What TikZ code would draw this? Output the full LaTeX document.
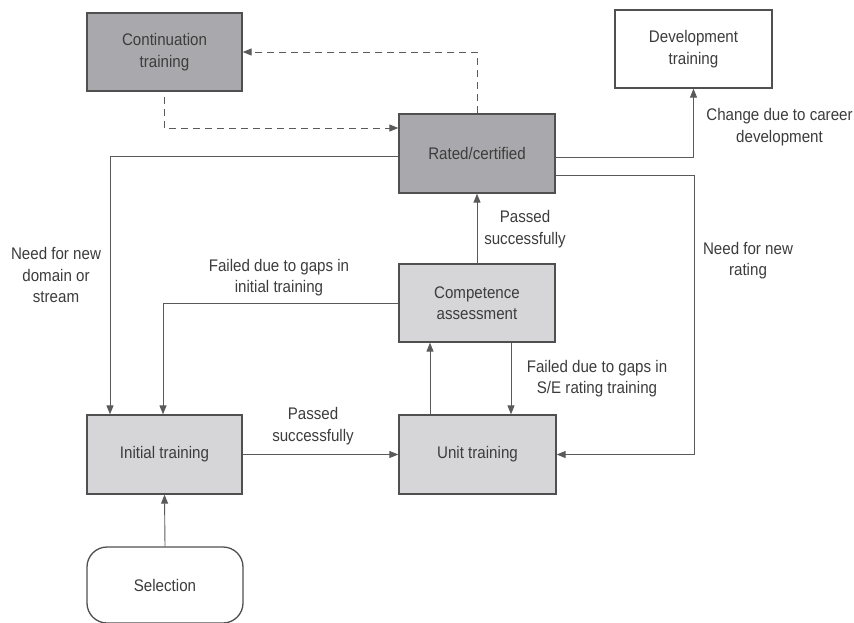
\documentclass[tikz,border=0pt]{standalone}
\usepackage{fontspec}
\setmainfont{Liberation Sans}[FakeStretch=0.9]
\usetikzlibrary{arrows.meta}
\definecolor{darkbox}{HTML}{A9A9AD}
\definecolor{lightbox}{HTML}{D6D6D8}
\definecolor{edgec}{HTML}{505050}
\definecolor{linec}{HTML}{5A5A5A}
\definecolor{txt}{HTML}{3C3C3C}
\tikzset{
  box/.style={draw=edgec, line width=1.3pt, minimum width=155pt, minimum height=78pt, align=center, text=txt, font=\fontsize{16.8}{21.5}\selectfont, inner sep=0pt},
  darkb/.style={box, fill=darkbox},
  lightb/.style={box, fill=lightbox},
  whiteb/.style={box, fill=white},
  arr/.style={draw=linec, line width=0.9pt, -{Triangle[length=9pt,width=7pt]}},
  dasharr/.style={arr, dash pattern=on 7pt off 5pt},
  lbl/.style={align=center, text=txt, font=\fontsize{16.8}{21.5}\selectfont, inner sep=0pt}
}
\begin{document}
\begin{tikzpicture}[x=1pt,y=-1pt]
\useasboundingbox (0,0) rectangle (854,622);
\node[darkb] (cont) at (164.5,52) {Continuation\\training};
\node[darkb, minimum width=156pt, minimum height=79pt] (rated) at (477,153.5) {Rated/certified};
\node[whiteb, minimum width=157pt] (dev) at (693.5,49) {Development\\training};
\node[lightb, minimum width=156pt] (comp) at (477,303) {Competence\\assessment};
\node[lightb, minimum height=79pt] (init) at (164.5,454.5) {Initial training};
\node[lightb, minimum width=157pt, minimum height=79pt] (unit) at (477.5,454.5) {Unit training};
\node[box, fill=white, rounded corners=20pt, minimum width=156pt, minimum height=76pt] (sel) at (165,585) {Selection};
\coordinate (nr) at (694,454.5);
% dashed
\draw[dasharr] (rated.north) |- (cont.east);
\draw[dasharr] ([yshift=-5pt]cont.south) |- ([yshift=25.5pt]rated.west);
% solid
\draw[arr] ([yshift=-3.5pt]rated.east) -| (dev.south);
\draw[arr] ([yshift=-21.5pt]rated.east) -| (nr) -- (unit.east);
\draw[arr] ([yshift=-2.5pt]rated.west) -| ([xshift=-54.5pt]init.north);
\draw[arr] (comp.west) -| ([xshift=-1.5pt]init.north);
\draw[arr] (comp.north) -- (rated.south);
\draw[arr] ([xshift=-47.5pt]unit.north) -- ([xshift=-47.5pt]unit.north |- comp.south);
\draw[arr] ([xshift=34pt]comp.south) -- ([xshift=34pt]comp.south |- unit.north);
\draw[arr] (init.east) -- (unit.west);
\draw[arr] (sel.north) -- (init.south);
% labels
\node[lbl] (l1) at (779.5,127) {Change due to career\\development};
\node[lbl] (l2) at (56,275) {Need for new\\domain or\\stream};
\node[lbl] (l3) at (279,277.5) {Failed due to gaps in\\initial training};
\node[lbl] (l4) at (525,229) {Passed\\successfully};
\node[lbl] (l5) at (748,260.5) {Need for new\\rating};
\node[lbl] (l6) at (597,378.5) {Failed due to gaps in\\S/E rating training};
\node[lbl] (l7) at (313,426) {Passed\\successfully};
\end{tikzpicture}
\end{document}
